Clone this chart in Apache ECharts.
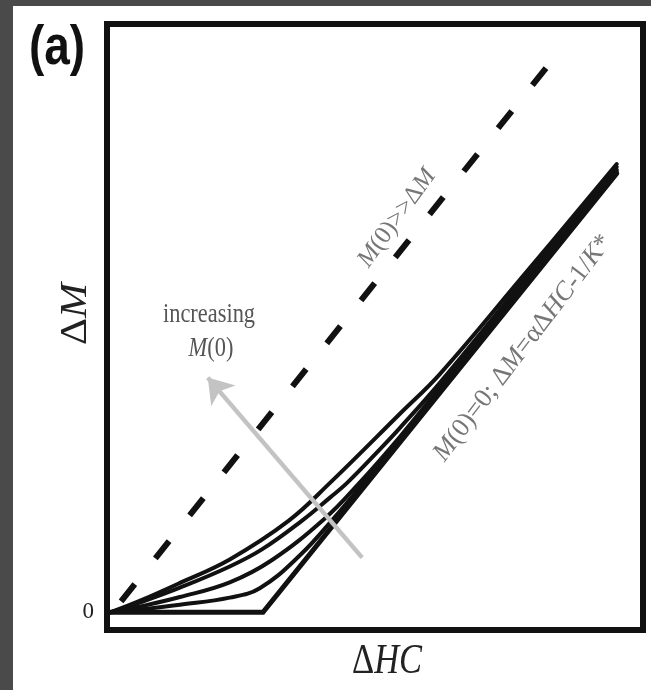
<!DOCTYPE html>
<html>
<head>
<meta charset="utf-8">
<script src="https://cdn.jsdelivr.net/npm/echarts@6/dist/echarts.min.js"></script>
<style>html,body{margin:0;padding:0;background:#fff;}#chart{width:651px;height:690px;}</style>
</head>
<body>
<div id="chart"></div>
<script>
// ---- data (arbitrary units: x = ΔHC, y = ΔM) ----
const xRange = [0, 10];
const yRange = [-0.3, 10];
const yTickValues = [0];
const yTickLabels = ['0'];

// M(0) >> ΔM limit (dashed, straight)
const dashedLine = [[0.1, 0], [8.19, 9.25]];
// M(0) = 0 limit: flat then linear
const limitLine = [[0.06, 0], [2.91, 0], [9.51, 7.46]];
// intermediate M(0) curves (top = largest M(0))
const curve1 = [[0.06,0],[0.62,0.2],[1.36,0.5],[2.29,0.9],[3.38,1.55],[4.16,2.2],[5.47,3.38],[6.21,4.05],[7.71,5.66],[9.51,7.62]];
const curve2 = [[0.06,0],[0.62,0.17],[1.36,0.42],[2.29,0.78],[2.89,1.07],[3.64,1.56],[4.16,1.95],[4.48,2.2],[5.09,2.77],[5.47,3.14],[6.21,3.9],[7.71,5.57],[9.51,7.57]];
const curve3 = [[0.06,0],[0.62,0.1],[1.36,0.26],[2.29,0.51],[3.08,0.89],[4.07,1.6],[4.68,2.17],[5.47,2.99],[6.21,3.82],[7.71,5.51],[9.51,7.52]];
const curve4 = [[0.06,0],[0.62,0.05],[1.36,0.13],[2.29,0.25],[2.85,0.41],[3.6,0.97],[4.25,1.62],[4.83,2.25],[5.47,2.93],[6.21,3.77],[7.71,5.46],[9.51,7.49]];
// "increasing M(0)" arrow
const arrowFrom = [4.76, 0.93];
const arrowTo = [1.88, 3.99];

const chart = echarts.init(document.getElementById('chart'), null, {renderer: 'canvas'});

function curveSeries(data, width) {
  return {
    type: 'line', data: data, symbol: 'none', smooth: 0.4,
    lineStyle: {color: '#111', width: width, cap: 'round', join: 'round'},
    silent: true, animation: false, z: 3
  };
}

const serif = '"Liberation Serif", "DejaVu Serif", serif';

chart.setOption({
  backgroundColor: '#ffffff',
  animation: false,
  grid: {left: 107, right: 8, top: 24, bottom: 60, show: true, borderColor: '#111', borderWidth: 6, backgroundColor: 'transparent', containLabel: false, z: 10},
  xAxis: {
    type: 'value', min: xRange[0], max: xRange[1],
    axisLine: {show: false}, axisTick: {show: false}, axisLabel: {show: false}, splitLine: {show: false}
  },
  yAxis: {
    type: 'value', min: yRange[0], max: yRange[1],
    axisLine: {show: false}, axisTick: {show: false}, splitLine: {show: false},
    axisLabel: {
      show: true, customValues: yTickValues, margin: 13,
      formatter: function (v) { const i = yTickValues.indexOf(v); return i >= 0 ? yTickLabels[i] : ''; },
      fontFamily: serif, fontSize: 23, color: '#222'
    }
  },
  series: [
    {
      type: 'line', data: dashedLine, symbol: 'none', silent: true, z: 3,
      lineStyle: {color: '#111', width: 6, type: [22, 33], dashOffset: 41, cap: 'butt'}
    },
    curveSeries(curve1, 4),
    curveSeries(curve2, 4),
    curveSeries(curve3, 4),
    curveSeries(curve4, 4),
    {
      type: 'line', data: limitLine, symbol: 'none', silent: true, z: 3,
      lineStyle: {color: '#111', width: 5, cap: 'round', join: 'miter'}
    },
    {
      type: 'line', data: [], symbol: 'none', silent: true, z: 4,
      markLine: {
        silent: true, animation: false,
        symbol: ['none', 'arrow'], symbolSize: 24,
        label: {show: false},
        lineStyle: {color: '#c3c3c3', width: 4.5, type: 'solid'},
        emphasis: {disabled: true},
        data: [[{coord: arrowFrom}, {coord: arrowTo}]]
      }
    }
  ],
  graphic: [
    {type: 'rect', silent: true, shape: {x: 0, y: 0, width: 651, height: 6}, style: {fill: '#4a4a4a'}},
    {type: 'rect', silent: true, shape: {x: 0, y: 0, width: 13, height: 690}, style: {fill: '#4a4a4a'}},
    {type: 'text', silent: true, x: 57, y: 49, scaleX: 0.82,
      style: {text: '(a)', font: 'bold 56px "Liberation Sans", Arial, sans-serif', fill: '#111', textAlign: 'center', textVerticalAlign: 'middle', align: 'center', verticalAlign: 'middle'}},
    {type: 'text', silent: true, x: 387, y: 662, scaleX: 0.82,
      style: {text: '{d|Δ}{i|HC}', fill: '#222', textAlign: 'center', textVerticalAlign: 'middle', align: 'center', verticalAlign: 'middle',
        rich: {d: {font: '42px ' + serif, fill: '#222'}, i: {font: 'italic 42px ' + serif, fill: '#222'}}}},
    {type: 'text', silent: true, x: 76, y: 314, rotation: Math.PI / 2, scaleY: 0.9,
      style: {text: '{d|Δ}{i|M}', fill: '#222', textAlign: 'center', textVerticalAlign: 'middle', align: 'center', verticalAlign: 'middle',
        rich: {d: {font: '42px ' + serif, fill: '#222'}, i: {font: 'italic 42px ' + serif, fill: '#222'}}}},
    {type: 'text', silent: true, x: 209, y: 315, scaleX: 0.8,
      style: {text: 'increasing', font: '28px ' + serif, fill: '#555', textAlign: 'center', textVerticalAlign: 'middle', align: 'center', verticalAlign: 'middle'}},
    {type: 'text', silent: true, x: 211, y: 349, scaleX: 0.8,
      style: {text: '{i|M}{n|(0)}', fill: '#555', textAlign: 'center', textVerticalAlign: 'middle', align: 'center', verticalAlign: 'middle',
        rich: {i: {font: 'italic 28px ' + serif, fill: '#555'}, n: {font: '28px ' + serif, fill: '#555'}}}},
    {type: 'text', silent: true, x: 397, y: 218, rotation: 54 * Math.PI / 180,
      style: {text: '{i|M}{n|(0)>>Δ}{i|M}', fill: '#777', textAlign: 'center', textVerticalAlign: 'middle', align: 'center', verticalAlign: 'middle',
        rich: {i: {font: 'italic 25px ' + serif, fill: '#777'}, n: {font: '25px ' + serif, fill: '#777'}}}},
    {type: 'text', silent: true, x: 523, y: 348, rotation: 52.7 * Math.PI / 180,
      style: {text: '{i|M}{n|(0)=0; Δ}{i|M}{n|=αΔ}{i|HC}{n|-1/}{i|K}{n|*}', fill: '#777', textAlign: 'center', textVerticalAlign: 'middle', align: 'center', verticalAlign: 'middle',
        rich: {i: {font: 'italic 26.5px ' + serif, fill: '#777'}, n: {font: '26.5px ' + serif, fill: '#777'}}}}
  ]
});
</script>
</body>
</html>
